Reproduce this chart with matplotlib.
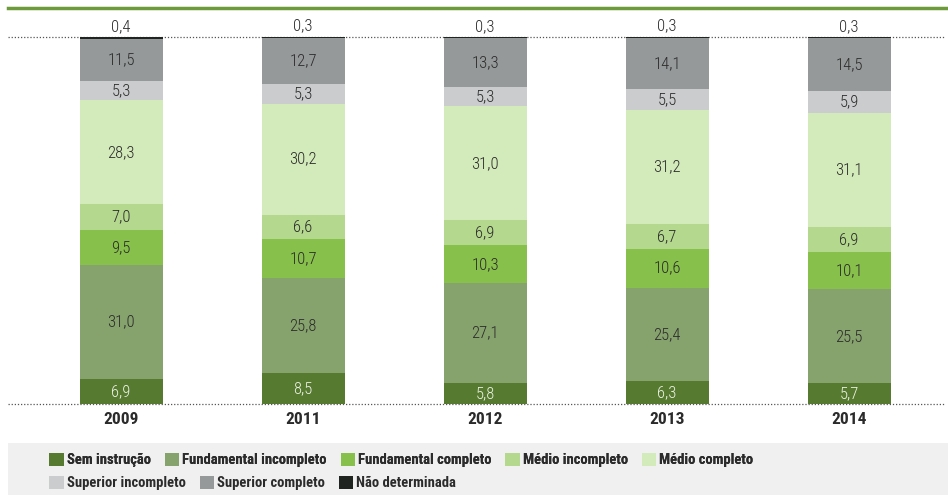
import numpy as np
import matplotlib.pyplot as plt
from matplotlib.patches import Rectangle
from matplotlib.lines import Line2D

plt.rcParams['font.family'] = ['Roboto Condensed', 'Roboto', 'DejaVu Sans']

years = ["2009", "2011", "2012", "2013", "2014"]
categories = ["Sem instrução", "Fundamental incompleto", "Fundamental completo",
              "Médio incompleto", "Médio completo", "Superior incompleto",
              "Superior completo", "Não determinada"]
sem_instrucao = [6.9, 8.5, 5.8, 6.3, 5.7]
fund_incompleto = [31.0, 25.8, 27.1, 25.4, 25.5]
fund_completo = [9.5, 10.7, 10.3, 10.6, 10.1]
medio_incompleto = [7.0, 6.6, 6.9, 6.7, 6.9]
medio_completo = [28.3, 30.2, 31.0, 31.2, 31.1]
sup_incompleto = [5.3, 5.3, 5.3, 5.5, 5.9]
sup_completo = [11.5, 12.7, 13.3, 14.1, 14.5]
nao_determinada = [0.4, 0.3, 0.3, 0.3, 0.3]

series = [sem_instrucao, fund_incompleto, fund_completo, medio_incompleto,
          medio_completo, sup_incompleto, sup_completo, nao_determinada]
colors = ["#557a30", "#87a36d", "#88c04c", "#b4d88e", "#d3eabb",
          "#cbcccd", "#96999a", "#1f2420"]
label_colors = ["#eef3e6"] + ["#2b2b2b"] * 7

fig = plt.figure(figsize=(9.48, 4.95), dpi=100)
ax = fig.add_axes([8 / 948, 1 - 404 / 495, 937 / 948, 367 / 495])

x = np.arange(len(years))
bottom = np.zeros(len(years))
for vals, col, lcol in zip(series, colors, label_colors):
    vals = np.array(vals)
    ax.bar(x, vals, 0.456, bottom=bottom, color=col, zorder=2)
    for xi, b, v in zip(x, bottom, vals):
        txt = f"{v:.1f}".replace(".", ",")
        if v < 1:
            ax.text(xi, b + v + 0.8, txt, ha="center", va="bottom",
                    fontsize=12, fontweight="light", color="#2b2b2b")
        else:
            ax.text(xi, b + v / 2, txt, ha="center", va="center",
                    fontsize=12, fontweight="light", color=lcol)
    bottom += vals

# dotted guide lines at 0 and 100
for yv in (0, 100):
    ax.axhline(yv, color="#555555", lw=0.9, ls=(0, (1, 1.5)), zorder=1,
               clip_on=False)

ax.set_xlim(-0.621, 4.527)
ax.set_ylim(0, 100)
ax.set_xticks(x)
ax.set_xticklabels(years, fontsize=12.5, fontweight="bold", color="#2b2b2b")
ax.tick_params(axis="x", length=0, pad=6)
ax.set_yticks([])
for s in ax.spines.values():
    s.set_visible(False)

# green rule across the top
fig.add_artist(Line2D([8 / 948, 1], [1 - 8 / 495] * 2, color="#6d9b3c", lw=2.5))

# legend panel
fig.add_artist(Rectangle((8 / 948, 0), 940 / 948, 52 / 495,
                         facecolor="#eff0ef", edgecolor="none", zorder=0))

handles = [Rectangle((0, 0), 1, 1, facecolor=c) for c in colors]
leg_kw = dict(frameon=False, handlelength=1.0, handleheight=1.0,
              handletextpad=0.2, columnspacing=0.95, borderpad=0,
              prop={"size": 10.5, "weight": "bold"}, labelcolor="#2b2b2b")
leg1 = fig.legend(handles[:5], categories[:5], ncol=5, loc="center left",
                  bbox_to_anchor=(42 / 948, 1 - 460 / 495), **leg_kw)
fig.add_artist(leg1)
fig.legend(handles[5:], categories[5:], ncol=3, loc="center left",
           bbox_to_anchor=(42 / 948, 1 - 483 / 495), **leg_kw)

fig.savefig("out.png", dpi=100)
